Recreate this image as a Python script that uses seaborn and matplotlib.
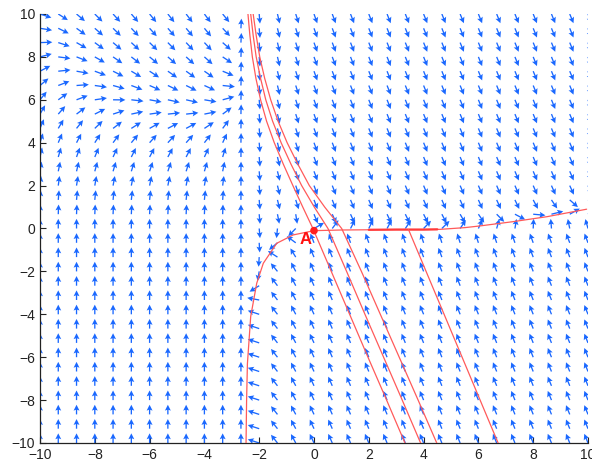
import numpy as np
import pandas as pd
import matplotlib
matplotlib.use("Agg")
import matplotlib.pyplot as plt
import seaborn as sns

# ---- grid of the direction field ----
grid_x = np.linspace(-10, 10, 31)
grid_y = np.linspace(-10, 10, 31)

# ---- red trajectories ----
# slow curve: from bottom-left asymptote through A and to the right
curve_h_x = [-2.48, -2.46, -2.43, -2.31, -2.09, -1.85, -1.36, -0.76, 0.0, 1.0, 2.0, 3.0, 4.0, 4.6, 5.5, 6.06, 7.27, 8.5, 9.95]
curve_h_y = [-10.0, -8.0, -6.3, -4.1, -2.55, -1.62, -0.69, -0.3, -0.1, -0.07, -0.06, -0.05, -0.05, -0.04, 0.04, 0.12, 0.32, 0.55, 0.9]
# overlapping (brighter) stretch of the slow curve
overlap_x = [2.0, 3.0, 4.0, 4.5]
overlap_y = [-0.06, -0.05, -0.05, -0.04]
# steep lines (x read at given y)
lines_y = [10, 9, 8, 7, 6, 5, 4, 3, 2, 1, 0, -2, -4, -6, -8, -10]
line_a_x = [-2.41, -2.34, -2.25, -2.12, -1.95, -1.73, -1.45, -1.12, -0.77, -0.41, -0.04, 0.63, 1.30, 1.97, 2.65, 3.32]
line_b_x = [-2.31, -2.22, -2.11, -1.95, -1.76, -1.51, -1.20, -0.84, -0.45, 0.01, 0.51, 1.19, 1.86, 2.54, 3.22, 3.89]
line_c_x = [-2.22, -2.11, -1.98, -1.80, -1.58, -1.31, -0.98, -0.59, -0.17, 0.39, 1.01, 1.73, 2.42, 3.11, 3.80, 4.48]
line_d_y = [-0.05, -10]
line_d_x = [3.45, 6.72]

point_A = (0.0, -0.1)
label_A = "A"

x_ticks = [-10, -8, -6, -4, -2, 0, 2, 4, 6, 8, 10]
y_ticks = [-10, -8, -6, -4, -2, 0, 2, 4, 6, 8, 10]

# ---- model of the direction field (normalised arrows) ----
X_DIV = -2.5          # singular line
FAST_SLOPE = 0.32     # dx/dy of the fast fibres


def field(X, Y):
    s = X - X_DIV
    # left of the singular line
    yn = 5.2 + 2.4 * np.exp(-(X + 9.33) / 1.7)
    uL = 0.55 * np.clip(Y, 0, None) * (np.abs(s) / (np.abs(s) + 0.3))
    vL = 1.8 * (yn - Y) + 1.5 / s ** 2
    # right of the singular line
    h = np.interp(X, curve_h_x, curve_h_y)
    h = np.where(X < curve_h_x[0], -1e3, h)
    dh = np.gradient(np.interp(grid_x, curve_h_x, curve_h_y), grid_x)
    dh = np.interp(X, grid_x, dh)
    d = Y - h
    f = s ** 2 / (s ** 2 + 1.0)
    t = np.where(X >= 0,
                 0.3 * (np.clip(X, 0, None) / 8.0) ** 3 * np.exp(-(d / 0.6) ** 2),
                 -0.3 * np.exp(-(d / 1.0) ** 2))
    uR = FAST_SLOPE * d * f - 0.6 * np.clip(-d, 0, None) / s ** 2 + t
    vR = -d + 0.12 + t * dh
    U = np.where(X < X_DIV, uL, uR)
    V = np.where(X < X_DIV, vL, vR)
    return U, V


X, Y = np.meshgrid(grid_x, grid_y)
with np.errstate(divide="ignore", invalid="ignore"):
    U, V = field(X, Y)
norm = np.hypot(U, V)
norm[norm == 0] = 1
L = 0.45
U = U / norm * L
V = V / norm * L

sns.set_style("ticks")
plt.rcParams['font.family'] = ['Liberation Sans', 'DejaVu Sans']

fig = plt.figure(figsize=(5.92, 4.70), dpi=100)
ax = fig.add_axes([40 / 592, 1 - 443 / 470, 548 / 592, 429 / 470])

ax.quiver(X, Y, U, V, angles='xy', scale_units='xy', scale=1, pivot='tail',
          color='#1a68ff', width=0.0024, headwidth=4.5, headlength=4.5,
          headaxislength=3.8, zorder=2)

red = '#ff5a5a'
sns.lineplot(x=curve_h_x, y=curve_h_y, sort=False, estimator=None, ax=ax,
             color=red, lw=0.9, zorder=3)
sns.lineplot(x=overlap_x, y=overlap_y, sort=False, estimator=None, ax=ax,
             color='#ff3a3a', lw=1.6, zorder=3)
for lx in [line_a_x, line_b_x, line_c_x]:
    sns.lineplot(x=lx, y=lines_y, sort=False, estimator=None, ax=ax,
                 color=red, lw=0.9, zorder=3)
sns.lineplot(x=line_d_x, y=line_d_y, sort=False, estimator=None, ax=ax,
             color=red, lw=0.9, zorder=3)

sns.scatterplot(x=[point_A[0]], y=[point_A[1]], ax=ax, color='#ff2020',
                s=30, edgecolor='none', zorder=4)
ax.text(-0.3, -0.5, label_A, color='#ff1010', fontsize=12, fontweight='bold',
        ha='center', va='center', zorder=5)

ax.set_xlim(-10, 10)
ax.set_ylim(-10, 10)
ax.set_xticks(x_ticks)
ax.set_yticks(y_ticks)
ax.tick_params(direction='in', length=4, width=0.8, labelsize=10,
               colors='#222222')
sns.despine(ax=ax)
for sp in ['left', 'bottom']:
    ax.spines[sp].set_linewidth(0.9)
    ax.spines[sp].set_color('#222222')
ax.set_xlabel('')
ax.set_ylabel('')

fig.savefig('out.png', dpi=100)
